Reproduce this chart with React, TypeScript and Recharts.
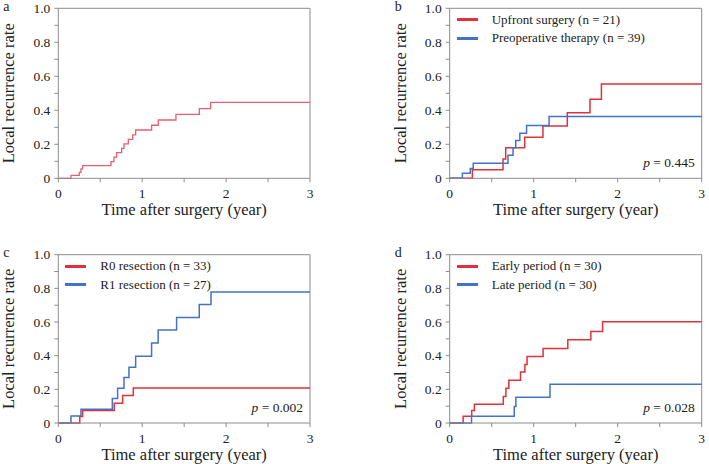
import React from "react";
import { LineChart, Line, XAxis, YAxis, ReferenceLine, Legend, Label } from "recharts";

const SERIF = '"Liberation Serif", "Times New Roman", serif';
const AXIS_GREY = "#8c8c8c";
const TEXT = "#222";
const RED = "#e0313d";
const PINK = "#e5606e";
const BLUE = "#4472c8";

// step times (years after surgery) and cumulative local recurrence rate reached at each step
const allTime = [0, 0.151, 0.25, 0.27, 0.29, 0.628, 0.663, 0.695, 0.755, 0.783, 0.834, 0.886, 0.922, 1.112, 1.192, 1.402, 1.681, 1.816, 3];
const allRate = [0, 0.017, 0.035, 0.055, 0.075, 0.098, 0.124, 0.151, 0.176, 0.202, 0.229, 0.255, 0.284, 0.312, 0.343, 0.376, 0.41, 0.447, 0.447];

const upfrontTime = [0, 0.27, 0.635, 0.667, 0.893, 1.11, 1.4, 1.67, 1.806, 3];
const upfrontRate = [0, 0.05, 0.114, 0.18, 0.241, 0.308, 0.386, 0.465, 0.555, 0.555];
const preopTime = [0, 0.151, 0.245, 0.28, 0.694, 0.754, 0.786, 0.835, 0.915, 1.183, 3];
const preopRate = [0, 0.03, 0.058, 0.088, 0.135, 0.18, 0.222, 0.265, 0.31, 0.363, 0.363];

const r0Time = [0, 0.256, 0.29, 0.667, 0.767, 0.894, 3];
const r0Rate = [0, 0.039, 0.075, 0.117, 0.164, 0.208, 0.208];
const r1Time = [0, 0.151, 0.27, 0.644, 0.707, 0.783, 0.842, 0.922, 1.112, 1.19, 1.41, 1.68, 1.82, 3];
const r1Rate = [0, 0.042, 0.082, 0.146, 0.207, 0.27, 0.331, 0.397, 0.475, 0.552, 0.627, 0.704, 0.778, 0.778];

const earlyTime = [0, 0.16, 0.262, 0.294, 0.638, 0.669, 0.704, 0.843, 0.895, 0.921, 1.112, 1.406, 1.68, 1.82, 3];
const earlyRate = [0, 0.04, 0.074, 0.111, 0.157, 0.206, 0.254, 0.303, 0.348, 0.395, 0.443, 0.494, 0.544, 0.602, 0.602];
const lateTime = [0, 0.26, 0.768, 0.788, 1.194, 3];
const lateRate = [0, 0.04, 0.098, 0.153, 0.23, 0.23];

const xTicks = [0, 0.5, 1, 1.5, 2, 2.5, 3];
const yTicks = [0, 0.1, 0.2, 0.3, 0.4, 0.5, 0.6, 0.7, 0.8, 0.9, 1];

const W = 354;
const H = 232;
const Y_AXIS_W = 50;
const X_AXIS_H = 40;

type Curve = { name: string; time: number[]; rate: number[]; color: string; width: number };
type Panel = {
  letter: string;
  x: number;
  y: number;
  plotLeft: number;
  plotRight: number;
  plotTop: number;
  plotBottom: number;
  curves: Curve[];
  legend?: boolean;
  pValue?: string;
};

const toSteps = (time: number[], rate: number[]) => time.map((t, i) => ({ time: t, rate: rate[i] }));

const fmtX = (v: number) => (Number.isInteger(v) ? String(v) : "");
const fmtY = (v: number) => {
  const k = Math.round(v * 10);
  if (k % 2 !== 0) return "";
  return k === 0 ? "0" : v.toFixed(1);
};

// legend keeps the panel's own curve order (recharts sorts its payload by name)
const KmLegend = ({ curves }: { curves: Curve[] }) => (
  <div style={{ fontFamily: SERIF, fontSize: 13, color: TEXT, lineHeight: "18.5px" }}>
    {curves.map((c) => (
      <div key={c.name} style={{ display: "flex", alignItems: "center", height: 18.5, whiteSpace: "nowrap" }}>
        <span style={{ display: "inline-block", width: 21, height: 3, background: c.color, marginRight: 14 }} />
        {c.name}
      </div>
    ))}
  </div>
);

const panels: Panel[] = [
  {
    letter: "a", x: 0, y: 0, plotLeft: 58.3, plotRight: 310, plotTop: 8.3, plotBottom: 178.3,
    curves: [{ name: "All patients", time: allTime, rate: allRate, color: PINK, width: 1.3 }],
  },
  {
    letter: "b", x: 354, y: 0, plotLeft: 95.7, plotRight: 347.7, plotTop: 8.3, plotBottom: 178.3,
    legend: true, pValue: "0.445",
    curves: [
      { name: "Upfront surgery (n = 21)", time: upfrontTime, rate: upfrontRate, color: RED, width: 1.5 },
      { name: "Preoperative therapy (n = 39)", time: preopTime, rate: preopRate, color: BLUE, width: 1.5 },
    ],
  },
  {
    letter: "c", x: 0, y: 232, plotLeft: 58.3, plotRight: 310, plotTop: 22.7, plotBottom: 191,
    legend: true, pValue: "0.002",
    curves: [
      { name: "R0 resection (n = 33)", time: r0Time, rate: r0Rate, color: RED, width: 1.5 },
      { name: "R1 resection (n = 27)", time: r1Time, rate: r1Rate, color: BLUE, width: 1.5 },
    ],
  },
  {
    letter: "d", x: 354, y: 232, plotLeft: 95.7, plotRight: 347.7, plotTop: 22.7, plotBottom: 191,
    legend: true, pValue: "0.028",
    curves: [
      { name: "Early period (n = 30)", time: earlyTime, rate: earlyRate, color: RED, width: 1.5 },
      { name: "Late period (n = 30)", time: lateTime, rate: lateRate, color: BLUE, width: 1.5 },
    ],
  },
];

function KmPanel({ p }: { p: Panel }) {
  const margin = {
    top: p.plotTop,
    right: W - p.plotRight,
    left: p.plotLeft - Y_AXIS_W,
    bottom: H - p.plotBottom - X_AXIS_H,
  };
  const tick = { fill: TEXT, fontSize: 13.5, fontFamily: SERIF };
  return (
    <div style={{ position: "absolute", left: p.x, top: p.y, width: W, height: H }}>
      <LineChart width={W} height={H} margin={margin}>
        <XAxis
          dataKey="time"
          type="number"
          domain={[0, 3]}
          ticks={xTicks}
          interval={0}
          tickFormatter={fmtX}
          tick={tick}
          tickSize={4}
          tickMargin={6}
          height={X_AXIS_H}
          axisLine={{ stroke: AXIS_GREY }}
          tickLine={{ stroke: AXIS_GREY }}
        >
          <Label
            value="Time after surgery (year)"
            position="insideBottom"
            offset={3.5}
            style={{ fontFamily: SERIF, fontSize: 16.5, fill: TEXT }}
          />
        </XAxis>
        <YAxis
          type="number"
          domain={[0, 1]}
          ticks={yTicks}
          interval={0}
          tickFormatter={fmtY}
          tick={tick}
          tickSize={4}
          tickMargin={4}
          width={Y_AXIS_W}
          axisLine={{ stroke: AXIS_GREY }}
          tickLine={{ stroke: AXIS_GREY }}
        >
          <Label
            value="Local recurrence rate"
            angle={-90}
            position="insideLeft"
            offset={0}
            style={{ fontFamily: SERIF, fontSize: 16.5, fill: TEXT, textAnchor: "middle" }}
          />
        </YAxis>
        <ReferenceLine y={1} stroke={AXIS_GREY} />
        <ReferenceLine x={3} stroke={AXIS_GREY} />
        {p.legend && (
          <Legend
            layout="vertical"
            align="center"
            verticalAlign="middle"
            content={<KmLegend curves={p.curves} />}
            wrapperStyle={{ left: p.plotLeft + 7, top: p.plotTop + 2.3, width: 220, height: 40 }}
          />
        )}
        {p.curves.map((c) => (
          <Line
            key={c.name}
            name={c.name}
            data={toSteps(c.time, c.rate)}
            dataKey="rate"
            type="stepAfter"
            stroke={c.color}
            strokeWidth={c.width}
            dot={false}
            activeDot={false}
            isAnimationActive={false}
          />
        ))}
      </LineChart>
      <div
        style={{
          position: "absolute",
          left: p.plotLeft - 55,
          top: p.plotTop - 8.3,
          fontFamily: SERIF,
          fontSize: 14,
          lineHeight: "14px",
          color: TEXT,
        }}
      >
        {p.letter}
      </div>
      {p.pValue && (
        <div
          style={{
            position: "absolute",
            right: W - (p.plotRight - 7),
            top: p.plotBottom - 11 - 0.8375 * 13.5,
            fontFamily: SERIF,
            fontSize: 13.5,
            lineHeight: "13.5px",
            color: TEXT,
            whiteSpace: "nowrap",
          }}
        >
          <i>p</i> = {p.pValue}
        </div>
      )}
    </div>
  );
}

export default function App() {
  return (
    <div style={{ position: "absolute", left: 0, top: 0, width: 709, height: 464, background: "#fff" }}>
      {panels.map((p) => (
        <KmPanel key={p.letter} p={p} />
      ))}
    </div>
  );
}
